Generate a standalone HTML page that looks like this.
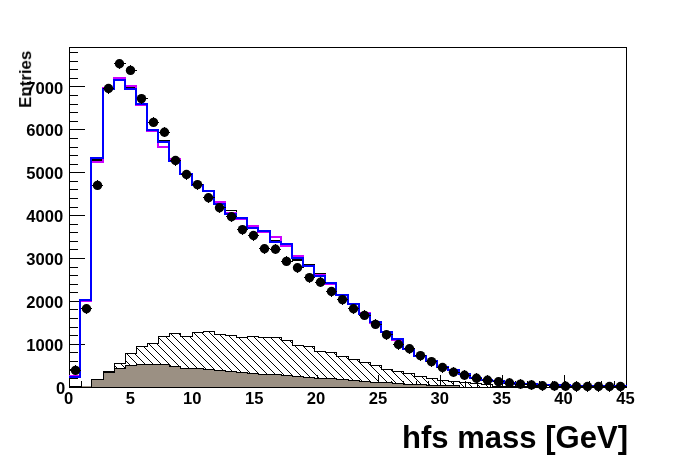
<!DOCTYPE html>
<html><head><meta charset="utf-8"><title>hfs mass</title>
<style>
html,body{margin:0;padding:0;background:#fff;}
body{width:696px;height:472px;overflow:hidden;}
svg{display:block;}
.t{opacity:0.999;}
text{font-family:"Liberation Sans",sans-serif;font-weight:bold;fill:#000;}
.lb{font-size:16.6px;}
</style></head><body>
<svg width="696" height="472" viewBox="0 0 696 472">
<defs><pattern id="h" patternUnits="userSpaceOnUse" width="8" height="8"><g shape-rendering="crispEdges" stroke="#000" stroke-width="1" fill="none"><path d="M5,0 L8,3 M0,3 L5,8"/></g></pattern>
<clipPath id="fr"><rect x="69" y="47" width="558" height="341"/></clipPath></defs>
<rect width="696" height="472" fill="#fff"/>
<g shape-rendering="crispEdges">
<rect x="69.5" y="47.5" width="557" height="340" fill="none" stroke="#000" stroke-width="1"/>
<rect x="70" y="387" width="15" height="1" fill="#000"/>
<rect x="70" y="378" width="8" height="1" fill="#000"/>
<rect x="70" y="369" width="8" height="1" fill="#000"/>
<rect x="70" y="361" width="8" height="1" fill="#000"/>
<rect x="70" y="352" width="8" height="1" fill="#000"/>
<rect x="70" y="344" width="15" height="1" fill="#000"/>
<rect x="70" y="335" width="8" height="1" fill="#000"/>
<rect x="70" y="327" width="8" height="1" fill="#000"/>
<rect x="70" y="318" width="8" height="1" fill="#000"/>
<rect x="70" y="309" width="8" height="1" fill="#000"/>
<rect x="70" y="301" width="15" height="1" fill="#000"/>
<rect x="70" y="292" width="8" height="1" fill="#000"/>
<rect x="70" y="284" width="8" height="1" fill="#000"/>
<rect x="70" y="275" width="8" height="1" fill="#000"/>
<rect x="70" y="267" width="8" height="1" fill="#000"/>
<rect x="70" y="258" width="15" height="1" fill="#000"/>
<rect x="70" y="249" width="8" height="1" fill="#000"/>
<rect x="70" y="241" width="8" height="1" fill="#000"/>
<rect x="70" y="232" width="8" height="1" fill="#000"/>
<rect x="70" y="224" width="8" height="1" fill="#000"/>
<rect x="70" y="215" width="15" height="1" fill="#000"/>
<rect x="70" y="207" width="8" height="1" fill="#000"/>
<rect x="70" y="198" width="8" height="1" fill="#000"/>
<rect x="70" y="189" width="8" height="1" fill="#000"/>
<rect x="70" y="181" width="8" height="1" fill="#000"/>
<rect x="70" y="172" width="15" height="1" fill="#000"/>
<rect x="70" y="164" width="8" height="1" fill="#000"/>
<rect x="70" y="155" width="8" height="1" fill="#000"/>
<rect x="70" y="147" width="8" height="1" fill="#000"/>
<rect x="70" y="138" width="8" height="1" fill="#000"/>
<rect x="70" y="129" width="15" height="1" fill="#000"/>
<rect x="70" y="121" width="8" height="1" fill="#000"/>
<rect x="70" y="112" width="8" height="1" fill="#000"/>
<rect x="70" y="104" width="8" height="1" fill="#000"/>
<rect x="70" y="95" width="8" height="1" fill="#000"/>
<rect x="70" y="86" width="15" height="1" fill="#000"/>
<rect x="70" y="78" width="8" height="1" fill="#000"/>
<rect x="70" y="69" width="8" height="1" fill="#000"/>
<rect x="70" y="61" width="8" height="1" fill="#000"/>
<rect x="70" y="52" width="8" height="1" fill="#000"/>
<rect x="69" y="375" width="1" height="12" fill="#000"/>
<rect x="81" y="381" width="1" height="6" fill="#000"/>
<rect x="94" y="381" width="1" height="6" fill="#000"/>
<rect x="106" y="381" width="1" height="6" fill="#000"/>
<rect x="119" y="381" width="1" height="6" fill="#000"/>
<rect x="131" y="375" width="1" height="12" fill="#000"/>
<rect x="143" y="381" width="1" height="6" fill="#000"/>
<rect x="156" y="381" width="1" height="6" fill="#000"/>
<rect x="168" y="381" width="1" height="6" fill="#000"/>
<rect x="180" y="381" width="1" height="6" fill="#000"/>
<rect x="193" y="375" width="1" height="12" fill="#000"/>
<rect x="205" y="381" width="1" height="6" fill="#000"/>
<rect x="218" y="381" width="1" height="6" fill="#000"/>
<rect x="230" y="381" width="1" height="6" fill="#000"/>
<rect x="242" y="381" width="1" height="6" fill="#000"/>
<rect x="255" y="375" width="1" height="12" fill="#000"/>
<rect x="267" y="381" width="1" height="6" fill="#000"/>
<rect x="279" y="381" width="1" height="6" fill="#000"/>
<rect x="292" y="381" width="1" height="6" fill="#000"/>
<rect x="304" y="381" width="1" height="6" fill="#000"/>
<rect x="317" y="375" width="1" height="12" fill="#000"/>
<rect x="329" y="381" width="1" height="6" fill="#000"/>
<rect x="341" y="381" width="1" height="6" fill="#000"/>
<rect x="354" y="381" width="1" height="6" fill="#000"/>
<rect x="366" y="381" width="1" height="6" fill="#000"/>
<rect x="378" y="375" width="1" height="12" fill="#000"/>
<rect x="391" y="381" width="1" height="6" fill="#000"/>
<rect x="403" y="381" width="1" height="6" fill="#000"/>
<rect x="416" y="381" width="1" height="6" fill="#000"/>
<rect x="428" y="381" width="1" height="6" fill="#000"/>
<rect x="440" y="375" width="1" height="12" fill="#000"/>
<rect x="453" y="381" width="1" height="6" fill="#000"/>
<rect x="465" y="381" width="1" height="6" fill="#000"/>
<rect x="477" y="381" width="1" height="6" fill="#000"/>
<rect x="490" y="381" width="1" height="6" fill="#000"/>
<rect x="502" y="375" width="1" height="12" fill="#000"/>
<rect x="515" y="381" width="1" height="6" fill="#000"/>
<rect x="527" y="381" width="1" height="6" fill="#000"/>
<rect x="539" y="381" width="1" height="6" fill="#000"/>
<rect x="552" y="381" width="1" height="6" fill="#000"/>
<rect x="564" y="375" width="1" height="12" fill="#000"/>
<rect x="576" y="381" width="1" height="6" fill="#000"/>
<rect x="589" y="381" width="1" height="6" fill="#000"/>
<rect x="601" y="381" width="1" height="6" fill="#000"/>
<rect x="614" y="381" width="1" height="6" fill="#000"/>
<rect x="626" y="375" width="1" height="12" fill="#000"/>
<polygon points="69.50,387.50 69.50,386.50 80.50,386.50 80.50,387.50 91.50,387.50 91.50,379.50 103.50,379.50 103.50,371.50 114.50,371.50 114.50,363.50 125.50,363.50 125.50,353.50 136.50,353.50 136.50,346.50 147.50,346.50 147.50,343.50 158.50,343.50 158.50,336.50 169.50,336.50 169.50,333.50 180.50,333.50 180.50,336.50 192.50,336.50 192.50,332.50 203.50,332.50 203.50,331.50 214.50,331.50 214.50,334.50 225.50,334.50 225.50,335.50 236.50,335.50 236.50,337.50 247.50,337.50 247.50,336.50 258.50,336.50 258.50,337.50 270.50,337.50 270.50,337.50 281.50,337.50 281.50,340.50 292.50,340.50 292.50,345.50 303.50,345.50 303.50,346.50 314.50,346.50 314.50,351.50 325.50,351.50 325.50,352.50 336.50,352.50 336.50,356.50 348.50,356.50 348.50,359.50 359.50,359.50 359.50,362.50 370.50,362.50 370.50,365.50 381.50,365.50 381.50,369.50 392.50,369.50 392.50,371.50 403.50,371.50 403.50,373.50 414.50,373.50 414.50,376.50 426.50,376.50 426.50,378.50 437.50,378.50 437.50,380.50 448.50,380.50 448.50,381.50 459.50,381.50 459.50,382.50 470.50,382.50 470.50,383.50 481.50,383.50 481.50,384.50 492.50,384.50 492.50,386.50 504.50,386.50 504.50,386.50 515.50,386.50 515.50,386.50 526.50,386.50 526.50,386.50 537.50,386.50 537.50,387.50 548.50,387.50 548.50,387.50 559.50,387.50 559.50,387.50 570.50,387.50 570.50,387.50 582.50,387.50 582.50,387.50 593.50,387.50 593.50,387.50 604.50,387.50 604.50,387.50 615.50,387.50 615.50,387.50 626.50,387.50 626.50,387.50" fill="url(#h)" stroke="none"/>
<polyline points="69.50,387.50 69.50,386.50 80.50,386.50 80.50,387.50 91.50,387.50 91.50,379.50 103.50,379.50 103.50,371.50 114.50,371.50 114.50,363.50 125.50,363.50 125.50,353.50 136.50,353.50 136.50,346.50 147.50,346.50 147.50,343.50 158.50,343.50 158.50,336.50 169.50,336.50 169.50,333.50 180.50,333.50 180.50,336.50 192.50,336.50 192.50,332.50 203.50,332.50 203.50,331.50 214.50,331.50 214.50,334.50 225.50,334.50 225.50,335.50 236.50,335.50 236.50,337.50 247.50,337.50 247.50,336.50 258.50,336.50 258.50,337.50 270.50,337.50 270.50,337.50 281.50,337.50 281.50,340.50 292.50,340.50 292.50,345.50 303.50,345.50 303.50,346.50 314.50,346.50 314.50,351.50 325.50,351.50 325.50,352.50 336.50,352.50 336.50,356.50 348.50,356.50 348.50,359.50 359.50,359.50 359.50,362.50 370.50,362.50 370.50,365.50 381.50,365.50 381.50,369.50 392.50,369.50 392.50,371.50 403.50,371.50 403.50,373.50 414.50,373.50 414.50,376.50 426.50,376.50 426.50,378.50 437.50,378.50 437.50,380.50 448.50,380.50 448.50,381.50 459.50,381.50 459.50,382.50 470.50,382.50 470.50,383.50 481.50,383.50 481.50,384.50 492.50,384.50 492.50,386.50 504.50,386.50 504.50,386.50 515.50,386.50 515.50,386.50 526.50,386.50 526.50,386.50 537.50,386.50 537.50,387.50 548.50,387.50 548.50,387.50 559.50,387.50 559.50,387.50 570.50,387.50 570.50,387.50 582.50,387.50 582.50,387.50 593.50,387.50 593.50,387.50 604.50,387.50 604.50,387.50 615.50,387.50 615.50,387.50 626.50,387.50 626.50,387.50" fill="none" stroke="#000" stroke-width="1"/>
<polygon points="69.50,387.50 69.50,387.50 80.50,387.50 80.50,387.50 91.50,387.50 91.50,379.50 103.50,379.50 103.50,372.50 114.50,372.50 114.50,368.50 125.50,368.50 125.50,365.50 136.50,365.50 136.50,364.50 147.50,364.50 147.50,364.50 158.50,364.50 158.50,364.50 169.50,364.50 169.50,366.50 180.50,366.50 180.50,368.50 192.50,368.50 192.50,368.50 203.50,368.50 203.50,369.50 214.50,369.50 214.50,370.50 225.50,370.50 225.50,371.50 236.50,371.50 236.50,372.50 247.50,372.50 247.50,373.50 258.50,373.50 258.50,374.50 270.50,374.50 270.50,374.50 281.50,374.50 281.50,375.50 292.50,375.50 292.50,376.50 303.50,376.50 303.50,377.50 314.50,377.50 314.50,378.50 325.50,378.50 325.50,378.50 336.50,378.50 336.50,379.50 348.50,379.50 348.50,380.50 359.50,380.50 359.50,381.50 370.50,381.50 370.50,382.50 381.50,382.50 381.50,382.50 392.50,382.50 392.50,383.50 403.50,383.50 403.50,384.50 414.50,384.50 414.50,384.50 426.50,384.50 426.50,385.50 437.50,385.50 437.50,385.50 448.50,385.50 448.50,385.50 459.50,385.50 459.50,387.50 470.50,387.50 470.50,387.50 481.50,387.50 481.50,387.50 492.50,387.50 492.50,387.50 504.50,387.50 504.50,387.50 515.50,387.50 515.50,387.50 526.50,387.50 526.50,387.50 537.50,387.50 537.50,387.50 548.50,387.50 548.50,387.50 559.50,387.50 559.50,387.50 570.50,387.50 570.50,387.50 582.50,387.50 582.50,387.50 593.50,387.50 593.50,387.50 604.50,387.50 604.50,387.50 615.50,387.50 615.50,387.50 626.50,387.50 626.50,387.50" fill="#9b9083" stroke="none"/>
<polyline points="69.50,387.50 69.50,387.50 80.50,387.50 80.50,387.50 91.50,387.50 91.50,379.50 103.50,379.50 103.50,372.50 114.50,372.50 114.50,368.50 125.50,368.50 125.50,365.50 136.50,365.50 136.50,364.50 147.50,364.50 147.50,364.50 158.50,364.50 158.50,364.50 169.50,364.50 169.50,366.50 180.50,366.50 180.50,368.50 192.50,368.50 192.50,368.50 203.50,368.50 203.50,369.50 214.50,369.50 214.50,370.50 225.50,370.50 225.50,371.50 236.50,371.50 236.50,372.50 247.50,372.50 247.50,373.50 258.50,373.50 258.50,374.50 270.50,374.50 270.50,374.50 281.50,374.50 281.50,375.50 292.50,375.50 292.50,376.50 303.50,376.50 303.50,377.50 314.50,377.50 314.50,378.50 325.50,378.50 325.50,378.50 336.50,378.50 336.50,379.50 348.50,379.50 348.50,380.50 359.50,380.50 359.50,381.50 370.50,381.50 370.50,382.50 381.50,382.50 381.50,382.50 392.50,382.50 392.50,383.50 403.50,383.50 403.50,384.50 414.50,384.50 414.50,384.50 426.50,384.50 426.50,385.50 437.50,385.50 437.50,385.50 448.50,385.50 448.50,385.50 459.50,385.50 459.50,387.50 470.50,387.50 470.50,387.50 481.50,387.50 481.50,387.50 492.50,387.50 492.50,387.50 504.50,387.50 504.50,387.50 515.50,387.50 515.50,387.50 526.50,387.50 526.50,387.50 537.50,387.50 537.50,387.50 548.50,387.50 548.50,387.50 559.50,387.50 559.50,387.50 570.50,387.50 570.50,387.50 582.50,387.50 582.50,387.50 593.50,387.50 593.50,387.50 604.50,387.50 604.50,387.50 615.50,387.50 615.50,387.50 626.50,387.50 626.50,387.50" fill="none" stroke="#000" stroke-width="1"/>
<rect x="82" y="386" width="9" height="1" fill="#9b9083"/>
<polyline points="91.50,158.00 91.50,159.50 103.50,159.50 103.50,158.00" fill="none" stroke="#000" stroke-width="1"/>
<polyline points="91.50,158.00 91.50,160.50 103.50,160.50 103.50,158.00" fill="none" stroke="#000" stroke-width="1"/>
<polyline points="125.50,89.00 125.50,87.50 136.50,87.50 136.50,89.00" fill="none" stroke="#000" stroke-width="1"/>
<polyline points="158.50,142.00 158.50,140.50 169.50,140.50 169.50,142.00" fill="none" stroke="#000" stroke-width="1"/>
<polyline points="225.50,214.00 225.50,210.50 236.50,210.50 236.50,214.00" fill="none" stroke="#000" stroke-width="1"/>
<polyline points="270.50,242.00 270.50,240.50 281.50,240.50 281.50,242.00" fill="none" stroke="#000" stroke-width="1"/>
<polyline points="292.50,258.00 292.50,259.50 303.50,259.50 303.50,258.00" fill="none" stroke="#000" stroke-width="1"/>
<polyline points="292.50,258.00 292.50,260.50 303.50,260.50 303.50,258.00" fill="none" stroke="#000" stroke-width="1"/>
<polyline points="303.50,266.00 303.50,264.50 314.50,264.50 314.50,266.00" fill="none" stroke="#000" stroke-width="1"/>
<polyline points="314.50,276.00 314.50,273.50 325.50,273.50 325.50,276.00" fill="none" stroke="#000" stroke-width="1"/>
<polyline points="69.00,376.00 80.00,376.00 80.00,301.00 91.00,301.00 91.00,162.00 103.00,162.00 103.00,88.00 114.00,88.00 114.00,78.00 125.00,78.00 125.00,86.00 136.00,86.00 136.00,105.00 147.00,105.00 147.00,131.00 158.00,131.00 158.00,147.00 169.00,147.00 169.00,159.00 180.00,159.00 180.00,174.00 192.00,174.00 192.00,185.00 203.00,185.00 203.00,191.00 214.00,191.00 214.00,202.00 225.00,202.00 225.00,213.00 236.00,213.00 236.00,219.00 247.00,219.00 247.00,226.00 258.00,226.00 258.00,232.00 270.00,232.00 270.00,237.00 281.00,237.00 281.00,246.00 292.00,246.00 292.00,256.00 303.00,256.00 303.00,266.00 314.00,266.00 314.00,275.00 325.00,275.00 325.00,284.00 336.00,284.00 336.00,295.00 348.00,295.00 348.00,304.00 359.00,304.00 359.00,313.00 370.00,313.00 370.00,323.00 381.00,323.00 381.00,332.00 392.00,332.00 392.00,340.00 403.00,340.00 403.00,349.00 414.00,349.00 414.00,356.00 426.00,356.00 426.00,361.00 437.00,361.00 437.00,367.00 448.00,367.00 448.00,370.00 459.00,370.00 459.00,374.00 470.00,374.00 470.00,378.00 481.00,378.00 481.00,380.00 492.00,380.00 492.00,381.00 504.00,381.00 504.00,383.00 515.00,383.00 515.00,384.00 526.00,384.00 526.00,384.00 537.00,384.00 537.00,385.00 548.00,385.00 548.00,385.00 559.00,385.00 559.00,385.00 570.00,385.00 570.00,386.00 582.00,386.00 582.00,386.00 593.00,386.00 593.00,386.00 604.00,386.00 604.00,386.00 615.00,386.00 615.00,386.00 626.00,386.00 626.00,387.50" fill="none" stroke="#cc00ff" stroke-width="2" stroke-linejoin="miter"/>
<polyline points="69.00,377.00 80.00,377.00 80.00,300.00 91.00,300.00 91.00,158.00 103.00,158.00 103.00,89.00 114.00,89.00 114.00,80.00 125.00,80.00 125.00,89.00 136.00,89.00 136.00,104.00 147.00,104.00 147.00,130.00 158.00,130.00 158.00,142.00 169.00,142.00 169.00,161.00 180.00,161.00 180.00,174.00 192.00,174.00 192.00,185.00 203.00,185.00 203.00,191.00 214.00,191.00 214.00,204.00 225.00,204.00 225.00,214.00 236.00,214.00 236.00,218.00 247.00,218.00 247.00,228.00 258.00,228.00 258.00,231.00 270.00,231.00 270.00,242.00 281.00,242.00 281.00,244.00 292.00,244.00 292.00,258.00 303.00,258.00 303.00,266.00 314.00,266.00 314.00,276.00 325.00,276.00 325.00,283.00 336.00,283.00 336.00,295.00 348.00,295.00 348.00,304.00 359.00,304.00 359.00,314.00 370.00,314.00 370.00,322.00 381.00,322.00 381.00,332.00 392.00,332.00 392.00,339.00 403.00,339.00 403.00,349.00 414.00,349.00 414.00,356.00 426.00,356.00 426.00,361.00 437.00,361.00 437.00,367.00 448.00,367.00 448.00,370.00 459.00,370.00 459.00,374.00 470.00,374.00 470.00,378.00 481.00,378.00 481.00,380.00 492.00,380.00 492.00,381.00 504.00,381.00 504.00,383.00 515.00,383.00 515.00,384.00 526.00,384.00 526.00,384.00 537.00,384.00 537.00,385.00 548.00,385.00 548.00,385.00 559.00,385.00 559.00,385.00 570.00,385.00 570.00,386.00 582.00,386.00 582.00,386.00 593.00,386.00 593.00,386.00 604.00,386.00 604.00,386.00 615.00,386.00 615.00,386.00 626.00,386.00 626.00,387.50" fill="none" stroke="#0000ff" stroke-width="2" stroke-linejoin="miter"/>
<line x1="69" y1="387.5" x2="627" y2="387.5" stroke="#000" stroke-width="1"/>
<line x1="69.80" y1="370.40" x2="80.94" y2="370.40" stroke="#000" stroke-width="1"/>
<line x1="75.50" y1="365.40" x2="75.50" y2="375.40" stroke="#000" stroke-width="1"/>
<line x1="80.94" y1="308.70" x2="92.08" y2="308.70" stroke="#000" stroke-width="1"/>
<line x1="86.50" y1="303.70" x2="86.50" y2="313.70" stroke="#000" stroke-width="1"/>
<line x1="92.08" y1="185.40" x2="103.22" y2="185.40" stroke="#000" stroke-width="1"/>
<line x1="97.50" y1="180.40" x2="97.50" y2="190.40" stroke="#000" stroke-width="1"/>
<line x1="103.22" y1="88.50" x2="114.36" y2="88.50" stroke="#000" stroke-width="1"/>
<line x1="108.50" y1="83.50" x2="108.50" y2="93.50" stroke="#000" stroke-width="1"/>
<line x1="114.36" y1="63.70" x2="125.50" y2="63.70" stroke="#000" stroke-width="1"/>
<line x1="119.50" y1="58.70" x2="119.50" y2="68.70" stroke="#000" stroke-width="1"/>
<line x1="125.50" y1="70.40" x2="136.64" y2="70.40" stroke="#000" stroke-width="1"/>
<line x1="130.50" y1="65.40" x2="130.50" y2="75.40" stroke="#000" stroke-width="1"/>
<line x1="136.64" y1="98.60" x2="147.78" y2="98.60" stroke="#000" stroke-width="1"/>
<line x1="141.50" y1="93.60" x2="141.50" y2="103.60" stroke="#000" stroke-width="1"/>
<line x1="147.78" y1="122.40" x2="158.92" y2="122.40" stroke="#000" stroke-width="1"/>
<line x1="153.50" y1="117.40" x2="153.50" y2="127.40" stroke="#000" stroke-width="1"/>
<line x1="158.92" y1="132.20" x2="170.06" y2="132.20" stroke="#000" stroke-width="1"/>
<line x1="164.50" y1="127.20" x2="164.50" y2="137.20" stroke="#000" stroke-width="1"/>
<line x1="170.06" y1="160.50" x2="181.20" y2="160.50" stroke="#000" stroke-width="1"/>
<line x1="175.50" y1="155.50" x2="175.50" y2="165.50" stroke="#000" stroke-width="1"/>
<line x1="181.20" y1="174.50" x2="192.34" y2="174.50" stroke="#000" stroke-width="1"/>
<line x1="186.50" y1="169.50" x2="186.50" y2="179.50" stroke="#000" stroke-width="1"/>
<line x1="192.34" y1="184.60" x2="203.48" y2="184.60" stroke="#000" stroke-width="1"/>
<line x1="197.50" y1="179.60" x2="197.50" y2="189.60" stroke="#000" stroke-width="1"/>
<line x1="203.48" y1="197.70" x2="214.62" y2="197.70" stroke="#000" stroke-width="1"/>
<line x1="208.50" y1="192.70" x2="208.50" y2="202.70" stroke="#000" stroke-width="1"/>
<line x1="214.62" y1="207.70" x2="225.76" y2="207.70" stroke="#000" stroke-width="1"/>
<line x1="219.50" y1="202.70" x2="219.50" y2="212.70" stroke="#000" stroke-width="1"/>
<line x1="225.76" y1="216.70" x2="236.90" y2="216.70" stroke="#000" stroke-width="1"/>
<line x1="231.50" y1="211.70" x2="231.50" y2="221.70" stroke="#000" stroke-width="1"/>
<line x1="236.90" y1="229.60" x2="248.04" y2="229.60" stroke="#000" stroke-width="1"/>
<line x1="242.50" y1="224.60" x2="242.50" y2="234.60" stroke="#000" stroke-width="1"/>
<line x1="248.04" y1="235.50" x2="259.18" y2="235.50" stroke="#000" stroke-width="1"/>
<line x1="253.50" y1="230.50" x2="253.50" y2="240.50" stroke="#000" stroke-width="1"/>
<line x1="259.18" y1="248.80" x2="270.32" y2="248.80" stroke="#000" stroke-width="1"/>
<line x1="264.50" y1="243.80" x2="264.50" y2="253.80" stroke="#000" stroke-width="1"/>
<line x1="270.32" y1="249.30" x2="281.46" y2="249.30" stroke="#000" stroke-width="1"/>
<line x1="275.50" y1="244.30" x2="275.50" y2="254.30" stroke="#000" stroke-width="1"/>
<line x1="281.46" y1="261.40" x2="292.60" y2="261.40" stroke="#000" stroke-width="1"/>
<line x1="286.50" y1="256.40" x2="286.50" y2="266.40" stroke="#000" stroke-width="1"/>
<line x1="292.60" y1="267.80" x2="303.74" y2="267.80" stroke="#000" stroke-width="1"/>
<line x1="297.50" y1="262.80" x2="297.50" y2="272.80" stroke="#000" stroke-width="1"/>
<line x1="303.74" y1="277.60" x2="314.88" y2="277.60" stroke="#000" stroke-width="1"/>
<line x1="309.50" y1="272.60" x2="309.50" y2="282.60" stroke="#000" stroke-width="1"/>
<line x1="314.88" y1="282.30" x2="326.02" y2="282.30" stroke="#000" stroke-width="1"/>
<line x1="320.50" y1="277.30" x2="320.50" y2="287.30" stroke="#000" stroke-width="1"/>
<line x1="326.02" y1="291.50" x2="337.16" y2="291.50" stroke="#000" stroke-width="1"/>
<line x1="331.50" y1="286.50" x2="331.50" y2="296.50" stroke="#000" stroke-width="1"/>
<line x1="337.16" y1="299.60" x2="348.30" y2="299.60" stroke="#000" stroke-width="1"/>
<line x1="342.50" y1="294.60" x2="342.50" y2="304.60" stroke="#000" stroke-width="1"/>
<line x1="348.30" y1="308.80" x2="359.44" y2="308.80" stroke="#000" stroke-width="1"/>
<line x1="353.50" y1="303.80" x2="353.50" y2="313.80" stroke="#000" stroke-width="1"/>
<line x1="359.44" y1="315.40" x2="370.58" y2="315.40" stroke="#000" stroke-width="1"/>
<line x1="364.50" y1="310.40" x2="364.50" y2="320.40" stroke="#000" stroke-width="1"/>
<line x1="370.58" y1="324.40" x2="381.72" y2="324.40" stroke="#000" stroke-width="1"/>
<line x1="375.50" y1="319.40" x2="375.50" y2="329.40" stroke="#000" stroke-width="1"/>
<line x1="381.72" y1="334.75" x2="392.86" y2="334.75" stroke="#000" stroke-width="1"/>
<line x1="386.50" y1="329.75" x2="386.50" y2="339.75" stroke="#000" stroke-width="1"/>
<line x1="392.86" y1="344.50" x2="404.00" y2="344.50" stroke="#000" stroke-width="1"/>
<line x1="398.50" y1="339.50" x2="398.50" y2="349.50" stroke="#000" stroke-width="1"/>
<line x1="404.00" y1="348.70" x2="415.14" y2="348.70" stroke="#000" stroke-width="1"/>
<line x1="409.50" y1="343.70" x2="409.50" y2="353.70" stroke="#000" stroke-width="1"/>
<line x1="415.14" y1="355.60" x2="426.28" y2="355.60" stroke="#000" stroke-width="1"/>
<line x1="420.50" y1="350.60" x2="420.50" y2="360.60" stroke="#000" stroke-width="1"/>
<line x1="426.28" y1="361.60" x2="437.42" y2="361.60" stroke="#000" stroke-width="1"/>
<line x1="431.50" y1="356.60" x2="431.50" y2="366.60" stroke="#000" stroke-width="1"/>
<line x1="437.42" y1="367.50" x2="448.56" y2="367.50" stroke="#000" stroke-width="1"/>
<line x1="442.50" y1="362.50" x2="442.50" y2="372.50" stroke="#000" stroke-width="1"/>
<line x1="448.56" y1="372.20" x2="459.70" y2="372.20" stroke="#000" stroke-width="1"/>
<line x1="453.50" y1="367.20" x2="453.50" y2="377.20" stroke="#000" stroke-width="1"/>
<line x1="459.70" y1="375.30" x2="470.84" y2="375.30" stroke="#000" stroke-width="1"/>
<line x1="464.50" y1="370.30" x2="464.50" y2="380.30" stroke="#000" stroke-width="1"/>
<line x1="470.84" y1="378.30" x2="481.98" y2="378.30" stroke="#000" stroke-width="1"/>
<line x1="476.50" y1="373.30" x2="476.50" y2="383.30" stroke="#000" stroke-width="1"/>
<line x1="481.98" y1="380.30" x2="493.12" y2="380.30" stroke="#000" stroke-width="1"/>
<line x1="487.50" y1="375.30" x2="487.50" y2="385.30" stroke="#000" stroke-width="1"/>
<line x1="493.12" y1="381.70" x2="504.26" y2="381.70" stroke="#000" stroke-width="1"/>
<line x1="498.50" y1="376.70" x2="498.50" y2="386.70" stroke="#000" stroke-width="1"/>
<line x1="504.26" y1="383.00" x2="515.40" y2="383.00" stroke="#000" stroke-width="1"/>
<line x1="509.50" y1="378.00" x2="509.50" y2="388.00" stroke="#000" stroke-width="1"/>
<line x1="515.40" y1="384.10" x2="526.54" y2="384.10" stroke="#000" stroke-width="1"/>
<line x1="520.50" y1="379.10" x2="520.50" y2="389.10" stroke="#000" stroke-width="1"/>
<line x1="526.54" y1="385.00" x2="537.68" y2="385.00" stroke="#000" stroke-width="1"/>
<line x1="531.50" y1="380.00" x2="531.50" y2="390.00" stroke="#000" stroke-width="1"/>
<line x1="537.68" y1="385.70" x2="548.82" y2="385.70" stroke="#000" stroke-width="1"/>
<line x1="542.50" y1="380.70" x2="542.50" y2="390.70" stroke="#000" stroke-width="1"/>
<line x1="548.82" y1="386.00" x2="559.96" y2="386.00" stroke="#000" stroke-width="1"/>
<line x1="554.50" y1="381.00" x2="554.50" y2="391.00" stroke="#000" stroke-width="1"/>
<line x1="559.96" y1="386.30" x2="571.10" y2="386.30" stroke="#000" stroke-width="1"/>
<line x1="565.50" y1="381.30" x2="565.50" y2="391.30" stroke="#000" stroke-width="1"/>
<line x1="571.10" y1="386.50" x2="582.24" y2="386.50" stroke="#000" stroke-width="1"/>
<line x1="576.50" y1="381.50" x2="576.50" y2="391.50" stroke="#000" stroke-width="1"/>
<line x1="582.24" y1="386.50" x2="593.38" y2="386.50" stroke="#000" stroke-width="1"/>
<line x1="587.50" y1="381.50" x2="587.50" y2="391.50" stroke="#000" stroke-width="1"/>
<line x1="593.38" y1="386.50" x2="604.52" y2="386.50" stroke="#000" stroke-width="1"/>
<line x1="598.50" y1="381.50" x2="598.50" y2="391.50" stroke="#000" stroke-width="1"/>
<line x1="604.52" y1="386.50" x2="615.66" y2="386.50" stroke="#000" stroke-width="1"/>
<line x1="609.50" y1="381.50" x2="609.50" y2="391.50" stroke="#000" stroke-width="1"/>
<line x1="615.66" y1="386.50" x2="626.80" y2="386.50" stroke="#000" stroke-width="1"/>
<line x1="620.50" y1="381.50" x2="620.50" y2="391.50" stroke="#000" stroke-width="1"/>
</g>
<circle cx="75.50" cy="370.40" r="4.7" fill="#000"/>
<circle cx="86.50" cy="308.70" r="4.7" fill="#000"/>
<circle cx="97.50" cy="185.40" r="4.7" fill="#000"/>
<circle cx="108.50" cy="88.50" r="4.7" fill="#000"/>
<circle cx="119.50" cy="63.70" r="4.7" fill="#000"/>
<circle cx="130.50" cy="70.40" r="4.7" fill="#000"/>
<circle cx="141.50" cy="98.60" r="4.7" fill="#000"/>
<circle cx="153.50" cy="122.40" r="4.7" fill="#000"/>
<circle cx="164.50" cy="132.20" r="4.7" fill="#000"/>
<circle cx="175.50" cy="160.50" r="4.7" fill="#000"/>
<circle cx="186.50" cy="174.50" r="4.7" fill="#000"/>
<circle cx="197.50" cy="184.60" r="4.7" fill="#000"/>
<circle cx="208.50" cy="197.70" r="4.7" fill="#000"/>
<circle cx="219.50" cy="207.70" r="4.7" fill="#000"/>
<circle cx="231.50" cy="216.70" r="4.7" fill="#000"/>
<circle cx="242.50" cy="229.60" r="4.7" fill="#000"/>
<circle cx="253.50" cy="235.50" r="4.7" fill="#000"/>
<circle cx="264.50" cy="248.80" r="4.7" fill="#000"/>
<circle cx="275.50" cy="249.30" r="4.7" fill="#000"/>
<circle cx="286.50" cy="261.40" r="4.7" fill="#000"/>
<circle cx="297.50" cy="267.80" r="4.7" fill="#000"/>
<circle cx="309.50" cy="277.60" r="4.7" fill="#000"/>
<circle cx="320.50" cy="282.30" r="4.7" fill="#000"/>
<circle cx="331.50" cy="291.50" r="4.7" fill="#000"/>
<circle cx="342.50" cy="299.60" r="4.7" fill="#000"/>
<circle cx="353.50" cy="308.80" r="4.7" fill="#000"/>
<circle cx="364.50" cy="315.40" r="4.7" fill="#000"/>
<circle cx="375.50" cy="324.40" r="4.7" fill="#000"/>
<circle cx="386.50" cy="334.75" r="4.7" fill="#000"/>
<circle cx="398.50" cy="344.50" r="4.7" fill="#000"/>
<circle cx="409.50" cy="348.70" r="4.7" fill="#000"/>
<circle cx="420.50" cy="355.60" r="4.7" fill="#000"/>
<circle cx="431.50" cy="361.60" r="4.7" fill="#000"/>
<circle cx="442.50" cy="367.50" r="4.7" fill="#000"/>
<circle cx="453.50" cy="372.20" r="4.7" fill="#000"/>
<circle cx="464.50" cy="375.30" r="4.7" fill="#000"/>
<circle cx="476.50" cy="378.30" r="4.7" fill="#000"/>
<circle cx="487.50" cy="380.30" r="4.7" fill="#000"/>
<circle cx="498.50" cy="381.70" r="4.7" fill="#000"/>
<circle cx="509.50" cy="383.00" r="4.7" fill="#000"/>
<circle cx="520.50" cy="384.10" r="4.7" fill="#000"/>
<circle cx="531.50" cy="385.00" r="4.7" fill="#000"/>
<circle cx="542.50" cy="385.70" r="4.7" fill="#000"/>
<circle cx="554.50" cy="386.00" r="4.7" fill="#000"/>
<circle cx="565.50" cy="386.30" r="4.7" fill="#000"/>
<circle cx="576.50" cy="386.50" r="4.7" fill="#000"/>
<circle cx="587.50" cy="386.50" r="4.7" fill="#000"/>
<circle cx="598.50" cy="386.50" r="4.7" fill="#000"/>
<circle cx="609.50" cy="386.50" r="4.7" fill="#000"/>
<circle cx="620.50" cy="386.50" r="4.7" fill="#000"/>
<g class="t">
<text class="lb" x="65.3" y="393.6" text-anchor="end">0</text>
<text class="lb" x="63.2" y="350.8" text-anchor="end">1000</text>
<text class="lb" x="63.2" y="307.9" text-anchor="end">2000</text>
<text class="lb" x="63.2" y="265.0" text-anchor="end">3000</text>
<text class="lb" x="63.2" y="222.1" text-anchor="end">4000</text>
<text class="lb" x="63.2" y="179.2" text-anchor="end">5000</text>
<text class="lb" x="63.2" y="136.4" text-anchor="end">6000</text>
<text class="lb" x="63.2" y="93.5" text-anchor="end">7000</text>
<text class="lb" x="68.5" y="403.8" text-anchor="middle">0</text>
<text class="lb" x="130.4" y="403.8" text-anchor="middle">5</text>
<text class="lb" x="192.3" y="403.8" text-anchor="middle">10</text>
<text class="lb" x="254.2" y="403.8" text-anchor="middle">15</text>
<text class="lb" x="316.1" y="403.8" text-anchor="middle">20</text>
<text class="lb" x="377.9" y="403.8" text-anchor="middle">25</text>
<text class="lb" x="439.8" y="403.8" text-anchor="middle">30</text>
<text class="lb" x="501.7" y="403.8" text-anchor="middle">35</text>
<text class="lb" x="563.6" y="403.8" text-anchor="middle">40</text>
<text class="lb" x="625.5" y="403.8" text-anchor="middle">45</text>
<text x="628.1" y="448.2" text-anchor="end" font-size="30.6px" textLength="226.1" lengthAdjust="spacingAndGlyphs">hfs mass [GeV]</text>
<text transform="translate(31.1,50.8) rotate(-90)" text-anchor="end" font-size="16.8px">Entries</text>
</g>
</svg>
</body></html>
